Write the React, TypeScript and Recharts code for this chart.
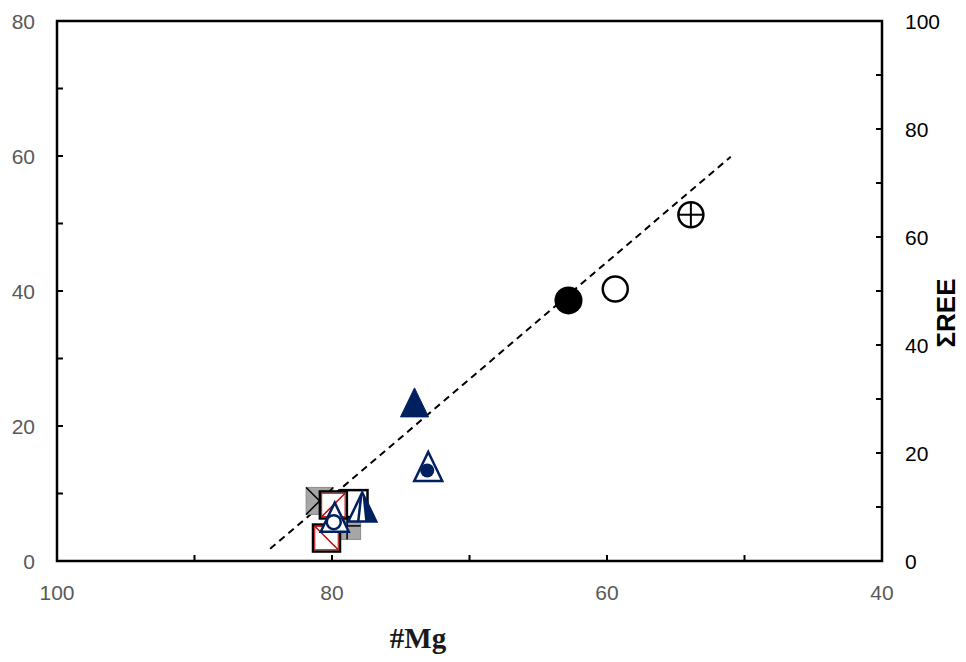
import React from 'react';
import { ScatterChart, Scatter, XAxis, YAxis, ReferenceArea } from 'recharts';

// ---- axis ticks ----
const xTicks = [40, 50, 60, 70, 80, 90, 100];
const yLeftTicks = [0, 10, 20, 30, 40, 50, 60, 70, 80];
const yRightTicks = [0, 10, 20, 30, 40, 50, 60, 70, 80, 90, 100];

// ---- data (mg = #Mg, ree = left-axis value) ----
const trendLine = [
  { mg: 84.5, ree: 1.8 },
  { mg: 51.0, ree: 59.9 },
];
const grayCrossSquare = [{ mg: 80.9, ree: 8.9 }];
const grayPlusSquare = [{ mg: 78.9, ree: 5.2 }];
const openSquare = [{ mg: 78.4, ree: 8.5 }];
const redSlashSquareTop = [{ mg: 79.9, ree: 8.3 }];
const redSlashSquareBottom = [{ mg: 80.4, ree: 3.4 }];
const triangleOpenCircle = [{ mg: 79.8, ree: 6.5 }];
const triangleStriped = [{ mg: 77.8, ree: 8.0 }];
const triangleFilled = [{ mg: 74.0, ree: 23.5 }];
const triangleDotCircle = [{ mg: 73.0, ree: 14.0 }];
const circleFilled = [{ mg: 62.8, ree: 38.6 }];
const circleOpen = [{ mg: 59.4, ree: 40.3 }];
const circleCross = [{ mg: 53.9, ree: 51.3 }];

const NAVY = '#002060';
const RED = '#c00000';
const GRAY = '#a6a6a6';
const TICK_COLOR = '#595959';
const FONT = '"Liberation Sans", Arial, sans-serif';

const SQ = 27;
const TRI_W = 28;
const TRI_H = 29;

const triPoints = (cx: number, cy: number) =>
  `${cx},${cy - TRI_H / 2} ${cx + TRI_W / 2},${cy + TRI_H / 2} ${cx - TRI_W / 2},${cy + TRI_H / 2}`;

const GrayCrossSquare = ({ cx, cy }: any) => (
  <g>
    <rect x={cx - SQ / 2} y={cy - SQ / 2} width={SQ} height={SQ} fill={GRAY} stroke="#8c8c8c" strokeWidth={1} />
    <line x1={cx - SQ / 2} y1={cy - SQ / 2} x2={cx + SQ / 2} y2={cy + SQ / 2} stroke="#000" strokeWidth={1.5} />
    <line x1={cx + SQ / 2} y1={cy - SQ / 2} x2={cx - SQ / 2} y2={cy + SQ / 2} stroke="#000" strokeWidth={1.5} />
  </g>
);

const GrayPlusSquare = ({ cx, cy }: any) => (
  <g>
    <rect x={cx - SQ / 2} y={cy - SQ / 2} width={SQ} height={SQ} fill={GRAY} stroke="#8c8c8c" strokeWidth={1} />
    <line x1={cx} y1={cy - SQ / 2} x2={cx} y2={cy + SQ / 2} stroke="#000" strokeWidth={1.5} />
    <line x1={cx - SQ / 2} y1={cy} x2={cx + SQ / 2} y2={cy} stroke="#000" strokeWidth={1.5} />
  </g>
);

const OpenSquare = ({ cx, cy }: any) => (
  <rect x={cx - SQ / 2} y={cy - SQ / 2} width={SQ} height={SQ} fill="#fff" stroke="#000" strokeWidth={2.5} />
);

const RedSlashSquare = ({ cx, cy, back }: any) => (
  <g>
    <rect x={cx - SQ / 2} y={cy - SQ / 2} width={SQ} height={SQ} fill="#fff" stroke="#000" strokeWidth={2.5} />
    <rect x={cx - SQ / 2 + 1.8} y={cy - SQ / 2 + 1.8} width={SQ - 3.6} height={SQ - 3.6} fill="none" stroke={RED} strokeWidth={1} />
    {back ? (
      <line x1={cx - SQ / 2 + 2} y1={cy - SQ / 2 + 2} x2={cx + SQ / 2 - 2} y2={cy + SQ / 2 - 2} stroke={RED} strokeWidth={1.5} />
    ) : (
      <line x1={cx + SQ / 2 - 2} y1={cy - SQ / 2 + 2} x2={cx - SQ / 2 + 2} y2={cy + SQ / 2 - 2} stroke={RED} strokeWidth={1.5} />
    )}
  </g>
);

const TriangleOpenCircle = ({ cx, cy }: any) => (
  <g>
    <polygon points={triPoints(cx, cy)} fill="#fff" stroke={NAVY} strokeWidth={2.5} strokeLinejoin="miter" />
    <circle cx={cx - 1} cy={cy + 5} r={7} fill="#fff" stroke={NAVY} strokeWidth={2.5} />
  </g>
);

const TriangleDotCircle = ({ cx, cy }: any) => (
  <g>
    <polygon points={triPoints(cx, cy)} fill="#fff" stroke={NAVY} strokeWidth={2.5} strokeLinejoin="miter" />
    <circle cx={cx - 1} cy={cy + 4} r={7} fill={NAVY} />
  </g>
);

const TriangleFilled = ({ cx, cy }: any) => (
  <polygon points={triPoints(cx, cy)} fill={NAVY} stroke={NAVY} strokeWidth={1} />
);

const TriangleStriped = ({ cx, cy }: any) => (
  <g>
    <polygon points={triPoints(cx, cy)} fill="#fff" stroke={NAVY} strokeWidth={2.5} strokeLinejoin="miter" />
    <polygon
      points={`${cx},${cy - TRI_H / 2} ${cx + TRI_W / 2},${cy + TRI_H / 2} ${cx + 3},${cy + TRI_H / 2}`}
      fill={NAVY}
    />
    <line x1={cx - 1} y1={cy - TRI_H / 2 + 2} x2={cx - 4} y2={cy + TRI_H / 2} stroke={NAVY} strokeWidth={2.5} />
  </g>
);

const CircleFilled = ({ cx, cy }: any) => <circle cx={cx} cy={cy} r={14} fill="#000" />;

const CircleOpen = ({ cx, cy }: any) => (
  <circle cx={cx} cy={cy} r={12.5} fill="#fff" stroke="#000" strokeWidth={2.5} />
);

const CircleCross = ({ cx, cy }: any) => (
  <g>
    <circle cx={cx} cy={cy} r={12.5} fill="#fff" stroke="#000" strokeWidth={2.5} />
    <line x1={cx - 12.5} y1={cy} x2={cx + 12.5} y2={cy} stroke="#000" strokeWidth={2} />
    <line x1={cx} y1={cy - 12.5} x2={cx} y2={cy + 12.5} stroke="#000" strokeWidth={2} />
  </g>
);

const NoShape = () => <g />;

// ---- ticks ----
const LeftTick = (props: any) => {
  const { x, y, payload } = props;
  const v = payload.value;
  return (
    <g>
      {v !== 0 && v !== 80 && <line x1={x} y1={y} x2={x + 6} y2={y} stroke="#000" strokeWidth={2} />}
      {v % 20 === 0 && (
        <text x={x - 22} y={y} textAnchor="end" dominantBaseline="central" fill={TICK_COLOR} fontSize={21} fontFamily={FONT}>
          {v}
        </text>
      )}
    </g>
  );
};

const RightTick = (props: any) => {
  const { x, y, payload } = props;
  const v = payload.value;
  return (
    <g>
      {v !== 0 && v !== 100 && <line x1={x} y1={y} x2={x - 6} y2={y} stroke="#000" strokeWidth={2} />}
      {v % 20 === 0 && (
        <text x={x + 23} y={y} textAnchor="start" dominantBaseline="central" fill="#000" fontSize={21} fontFamily={FONT}>
          {v}
        </text>
      )}
    </g>
  );
};

const BottomTick = (props: any) => {
  const { x, y, payload } = props;
  const v = payload.value;
  return (
    <g>
      {v !== 40 && v !== 100 && <line x1={x} y1={y} x2={x} y2={y - 6} stroke="#000" strokeWidth={2} />}
      {v % 20 === 0 && (
        <text x={x} y={y + 31} textAnchor="middle" dominantBaseline="central" fill={TICK_COLOR} fontSize={21} fontFamily={FONT}>
          {v}
        </text>
      )}
    </g>
  );
};

const XLabel = (props: any) => {
  const vb = props.viewBox || { x: 49, y: 553, width: 825, height: 101 };
  return (
    <text x={vb.x + 361} y={vb.y + 87} textAnchor="middle" fontSize={29} fontWeight="bold" fontFamily='"Liberation Serif", "Times New Roman", serif' fill="#1a1a1a">
      #Mg
    </text>
  );
};

const RightLabel = (props: any) => {
  const vb = props.viewBox || { x: 874, y: 13, width: 84, height: 540 };
  const cx = vb.x + 64;
  const cy = vb.y + 292;
  return (
    <text
      x={cx}
      y={cy}
      transform={`rotate(-90 ${cx} ${cy})`}
      textAnchor="middle"
      dominantBaseline="central"
      fontSize={26}
      fontWeight="bold"
      fontFamily={FONT}
      fill="#000"
    >
      ΣREE
    </text>
  );
};

export default function App() {
  return (
    <ScatterChart width={958} height={654} margin={{ top: 13, right: 0, bottom: 0, left: 0 }}>
      <XAxis
        dataKey="mg"
        type="number"
        domain={[40, 100]}
        reversed
        ticks={xTicks}
        interval={0}
        tick={<BottomTick />}
        tickLine={false}
        tickSize={0}
        tickMargin={0}
        axisLine={false}
        height={101}
        allowDataOverflow
        label={XLabel}
      />
      <YAxis
        yAxisId="left"
        dataKey="ree"
        type="number"
        domain={[0, 80]}
        ticks={yLeftTicks}
        interval={0}
        tick={<LeftTick />}
        tickLine={false}
        tickSize={0}
        tickMargin={0}
        axisLine={false}
        width={49}
        allowDataOverflow
      />
      <YAxis
        yAxisId="right"
        orientation="right"
        type="number"
        domain={[0, 100]}
        ticks={yRightTicks}
        interval={0}
        tick={<RightTick />}
        tickLine={false}
        tickSize={0}
        tickMargin={0}
        axisLine={false}
        width={84}
        allowDataOverflow
        label={RightLabel}
      />
      <Scatter yAxisId="left" data={trendLine} line={{ stroke: '#000', strokeWidth: 2, strokeDasharray: '7 5' }} shape={NoShape} isAnimationActive={false} />
      <Scatter yAxisId="left" data={grayCrossSquare} shape={GrayCrossSquare} isAnimationActive={false} />
      <Scatter yAxisId="left" data={grayPlusSquare} shape={GrayPlusSquare} isAnimationActive={false} />
      <Scatter yAxisId="left" data={openSquare} shape={OpenSquare} isAnimationActive={false} />
      <Scatter yAxisId="left" data={redSlashSquareTop} shape={(p: any) => <RedSlashSquare {...p} />} isAnimationActive={false} />
      <Scatter yAxisId="left" data={redSlashSquareBottom} shape={(p: any) => <RedSlashSquare {...p} back />} isAnimationActive={false} />
      <Scatter yAxisId="left" data={triangleOpenCircle} shape={TriangleOpenCircle} isAnimationActive={false} />
      <Scatter yAxisId="left" data={triangleStriped} shape={TriangleStriped} isAnimationActive={false} />
      <Scatter yAxisId="left" data={triangleFilled} shape={TriangleFilled} isAnimationActive={false} />
      <Scatter yAxisId="left" data={triangleDotCircle} shape={TriangleDotCircle} isAnimationActive={false} />
      <Scatter yAxisId="left" data={circleFilled} shape={CircleFilled} isAnimationActive={false} />
      <Scatter yAxisId="left" data={circleOpen} shape={CircleOpen} isAnimationActive={false} />
      <Scatter yAxisId="left" data={circleCross} shape={CircleCross} isAnimationActive={false} />
      <ReferenceArea yAxisId="left" x1={40} x2={100} y1={0} y2={80} fill="none" fillOpacity={0} stroke="#000" strokeWidth={2.5} ifOverflow="visible" />
    </ScatterChart>
  );
}
